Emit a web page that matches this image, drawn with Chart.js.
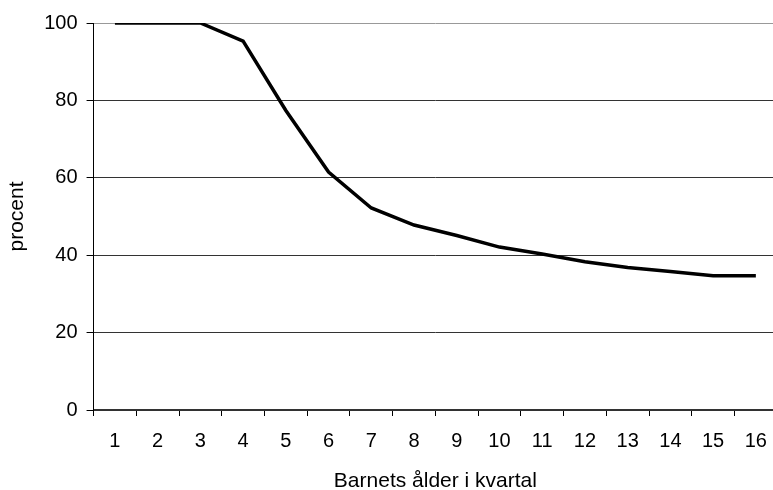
<!DOCTYPE html>
<html>
<head>
<meta charset="utf-8">
<script src="https://cdn.jsdelivr.net/npm/chart.js@4/dist/chart.umd.min.js"></script>
<style>
html,body{margin:0;padding:0;background:#fff;overflow:hidden;}
#wrap{width:780px;height:490px;position:relative;}
</style>
</head>
<body>
<div id="wrap"><canvas id="c"></canvas></div>
<script>
const categories = ["1","2","3","4","5","6","7","8","9","10","11","12","13","14","15","16"];
const values = [100, 100, 100, 95.3, 77.4, 61.5, 52.2, 47.8, 45.1, 42.1, 40.3, 38.3, 36.8, 35.8, 34.7, 34.7];
const yTicks = [0, 20, 40, 60, 80, 100];
const xTitle = "Barnets ålder i kvartal";
const yTitle = "procent";

const fam = "'Liberation Sans', Arial, sans-serif";
const tickFont = {family: fam, size: 20, lineHeight: 1.2};
const titleFont = {family: fam, size: 21, lineHeight: 1};
new Chart(document.getElementById('c'), {
  type: 'line',
  data: {
    labels: categories,
    datasets: [{
      data: values,
      borderColor: '#000',
      borderWidth: 3.5,
      pointRadius: 0,
      tension: 0,
      fill: false
    }]
  },
  options: {
    responsive: true,
    maintainAspectRatio: false,
    animation: false,
    layout: {padding: {top: 23, left: 5, right: 1, bottom: -2}},
    plugins: {legend: {display: false}, tooltip: {enabled: false}},
    scales: {
      x: {
        offset: true,
        grid: {offset: true, drawOnChartArea: false, drawTicks: true, tickLength: 6, color: '#000', lineWidth: 1},
        border: {color: '#333', width: 1.5},
        ticks: {color: '#000', font: tickFont, padding: 13, maxRotation: 0, autoSkip: false},
        title: {display: true, text: xTitle, color: '#000', font: titleFont, padding: {top: 5, bottom: 0}}
      },
      y: {
        min: 0, max: 100,
        afterBuildTicks: (axis) => { axis.ticks = yTicks.map(v => ({value: v})); },
        grid: {color: (ctx) => ctx.tick && ctx.tick.value === 100 ? '#999' : '#333', lineWidth: 1, tickLength: 7, tickColor: '#000'},
        border: {color: '#000', width: 1},
        ticks: {color: '#000', font: tickFont, padding: 9},
        title: {display: true, text: yTitle, color: '#000', font: {family: fam, size: 21, lineHeight: 1.2}, padding: {top: 0, bottom: 5}}
      }
    }
  }
});
</script>
</body>
</html>
